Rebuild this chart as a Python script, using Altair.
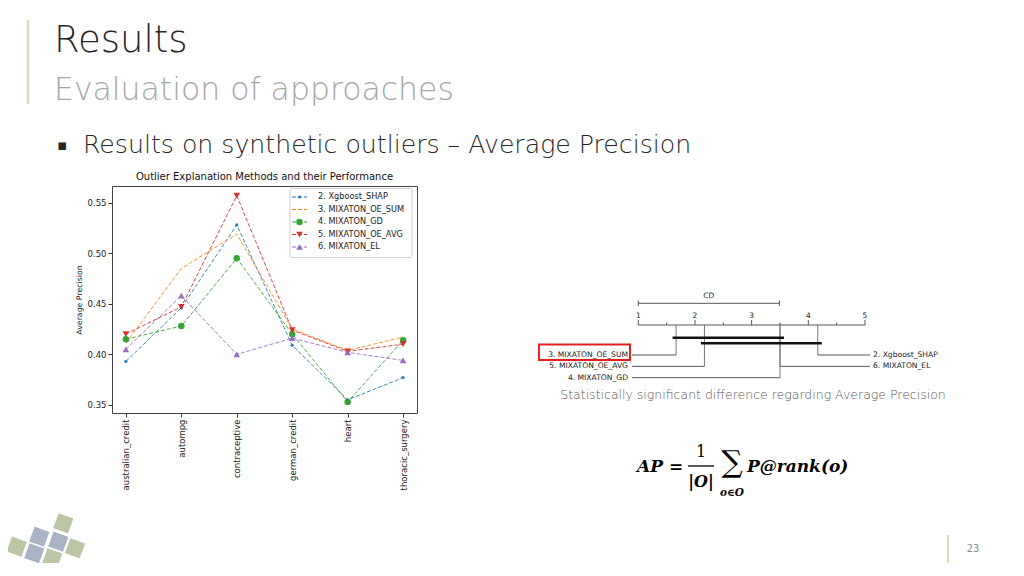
import altair as alt
import pandas as pd

# ---------------- data ----------------
datasets = ["australian_credit", "autompg", "contraceptive", "german_credit", "heart", "thoracic_surgery"]
methods = ["2. Xgboost_SHAP", "3. MIXATON_OE_SUM", "4. MIXATON_GD", "5. MIXATON_OE_AVG", "6. MIXATON_EL"]
shap_vals = [0.393, 0.446, 0.528, 0.409, 0.355, 0.377]
oe_sum_vals = [0.411, 0.485, 0.519, 0.425, 0.404, 0.417]
gd_vals = [0.415, 0.428, 0.495, 0.420, 0.353, 0.414]
oe_avg_vals = [0.420, 0.447, 0.557, 0.424, 0.403, 0.410]
el_vals = [0.405, 0.458, 0.400, 0.416, 0.402, 0.394]
series_values = [shap_vals, oe_sum_vals, gd_vals, oe_avg_vals, el_vals]
y_ticks = [0.35, 0.40, 0.45, 0.50, 0.55]

cd_methods = ["3. MIXATON_OE_SUM", "5. MIXATON_OE_AVG", "4. MIXATON_GD", "6. MIXATON_EL", "2. Xgboost_SHAP"]
cd_ranks = [1.667, 2.167, 3.5, 3.5, 4.167]
cd_value = 2.49
cd_ticks = [1, 2, 3, 4, 5]
cd_minor = [1.5, 2.5, 3.5, 4.5]
cliques = [
    ["3. MIXATON_OE_SUM", "5. MIXATON_OE_AVG", "4. MIXATON_GD", "6. MIXATON_EL"],
    ["5. MIXATON_OE_AVG", "4. MIXATON_GD", "6. MIXATON_EL", "2. Xgboost_SHAP"],
]

chart_title = "Outlier Explanation Methods and their Performance"
slide_title = "Results"
slide_subtitle = "Evaluation of approaches"
bullet_text = "Results on synthetic outliers \u2013 Average Precision"
caption = "Statistically significant difference regarding Average Precision"
page_no = "23"

# ---------------- styles ----------------
colors = ["#1f77b4", "#ff7f0e", "#2ca02c", "#d62728", "#9467bd"]
marker_shapes = ["circle", None, "circle", "triangle-down", "triangle-up"]
marker_sizes = [10, 0, 42, 44, 44]
FONT = "DejaVu Sans"
SLIDE_FONT = "DejaVu Sans"

W, H = 305, 227

rows = [
    {"dataset": d, "method": m, "value": v}
    for m, vals in zip(methods, series_values)
    for d, v in zip(datasets, vals)
]
df = pd.DataFrame(rows)

color = alt.Color("method:N", scale=alt.Scale(domain=methods, range=colors), legend=None)

x_enc = alt.X(
    "dataset:N", sort=datasets,
    scale=alt.Scale(type="point", padding=0.25),
    axis=alt.Axis(title=None, labelAngle=270, labelPadding=2),
)
y_enc = alt.Y(
    "value:Q",
    scale=alt.Scale(domain=[0.342, 0.5665], nice=False, zero=False),
    axis=alt.Axis(values=y_ticks, format=".2f", title="Average Precision", titlePadding=4, labelPadding=2),
)

base = alt.Chart(df)
main_layers = []
for m, shp, sz in zip(methods, marker_shapes, marker_sizes):
    sub = base.transform_filter(alt.datum.method == m)
    main_layers.append(
        sub.mark_line(strokeWidth=1, strokeDash=[4, 2], opacity=0.85).encode(x=x_enc, y=y_enc, color=color)
    )
    if shp is not None:
        main_layers.append(
            sub.mark_point(filled=True, opacity=0.95, shape=shp, size=sz).encode(x=x_enc, y=y_enc, color=color)
        )
main = alt.layer(*main_layers)


def txt(text, x, y, fs, col="#222", font=FONT, align="left", baseline="middle", weight="normal", style="normal"):
    return alt.Chart(pd.DataFrame({"t": [text]})).mark_text(
        align=align, baseline=baseline, fontSize=fs, font=font, color=col,
        fontWeight=weight, fontStyle=style,
    ).encode(text="t:N", x=alt.value(x), y=alt.value(y))


def rule(x, x2, y, y2, col, sw=1):
    return alt.Chart(pd.DataFrame({"a": [0]})).mark_rule(color=col, strokeWidth=sw).encode(
        x=alt.value(x), x2=alt.value(x2), y=alt.value(y), y2=alt.value(y2)
    )


# ---------- manual legend ----------
leg_df = pd.DataFrame({"method": methods})
leg_y = alt.Y("method:N", scale=alt.Scale(type="point", domain=methods, range=[11, 61], padding=0), axis=None)
leg_box = alt.Chart(pd.DataFrame({"a": [0]})).mark_rect(
    fill="white", stroke="#cccccc", strokeWidth=1, cornerRadius=2, opacity=0.9
).encode(x=alt.value(178), x2=alt.value(300), y=alt.value(2.5), y2=alt.value(71.5))
leg_lines = alt.Chart(leg_df).mark_rule(strokeWidth=1, strokeDash=[4, 2]).encode(
    x=alt.value(180), x2=alt.value(195), y=leg_y, color=color)
leg_pts = []
for m, shp, sz in zip(methods, marker_shapes, marker_sizes):
    if shp is not None:
        leg_pts.append(
            alt.Chart(leg_df).transform_filter(alt.datum.method == m).mark_point(
                filled=True, opacity=0.95, shape=shp, size=sz
            ).encode(x=alt.value(187.5), y=leg_y, color=color)
        )
leg_txt = alt.Chart(leg_df).mark_text(align="left", baseline="middle", fontSize=8.2, font=FONT, color="#222").encode(
    x=alt.value(206), y=leg_y, text="method:N")
legend = alt.layer(leg_box, leg_lines, *leg_pts, leg_txt)

# ---------- critical difference diagram ----------
AX_Y = 139
cd_x = lambda f: alt.X(f, scale=alt.Scale(domain=[1, 5], range=[526.3, 753], zero=False, nice=False), axis=None)

left_n = (len(cd_methods) + 1) // 2
cd_df = pd.DataFrame({"method": cd_methods, "rank": cd_ranks})
cd_df = cd_df.sort_values("rank", kind="stable").reset_index(drop=True)
cd_df["side"] = ["left" if i < left_n else "right" for i in range(len(cd_df))]
cd_df["row"] = 0
lidx = cd_df.index[cd_df["side"] == "left"]
ridx = cd_df.index[cd_df["side"] == "right"]
cd_df.loc[lidx, "row"] = range(len(lidx))
cd_df.loc[ridx[::-1], "row"] = range(len(ridx))
row_y = alt.Y("row:Q", scale=alt.Scale(domain=[0, 2], range=[169, 191.7], zero=False, nice=False), axis=None)

LINE_C = "#555555"
axis_df = pd.DataFrame({"lo": [min(cd_ticks)], "hi": [max(cd_ticks)]})
cd_axis = alt.Chart(axis_df).mark_rule(color=LINE_C, strokeWidth=1).encode(
    x=cd_x("lo:Q"), x2="hi:Q", y=alt.value(AX_Y))
major = alt.Chart(pd.DataFrame({"r": cd_ticks})).mark_rule(color=LINE_C, strokeWidth=1).encode(
    x=cd_x("r:Q"), y=alt.value(AX_Y - 5), y2=alt.value(AX_Y))
minor = alt.Chart(pd.DataFrame({"r": cd_minor})).mark_rule(color=LINE_C, strokeWidth=1).encode(
    x=cd_x("r:Q"), y=alt.value(AX_Y - 2.5), y2=alt.value(AX_Y))
tick_lbl = alt.Chart(pd.DataFrame({"r": cd_ticks})).mark_text(
    fontSize=7.5, font=FONT, color="#222", baseline="middle").encode(
    x=cd_x("r:Q"), y=alt.value(AX_Y - 9.5), text=alt.Text("r:Q", format="d"))

cdbar_df = pd.DataFrame({"a": [1.0], "b": [1.0 + cd_value], "m": [1.0 + cd_value / 2]})
cd_bar = alt.Chart(cdbar_df).mark_rule(color=LINE_C, strokeWidth=1).encode(
    x=cd_x("a:Q"), x2="b:Q", y=alt.value(117.3))
cd_end1 = alt.Chart(cdbar_df).mark_rule(color=LINE_C, strokeWidth=1).encode(
    x=cd_x("a:Q"), y=alt.value(114.5), y2=alt.value(120))
cd_end2 = alt.Chart(cdbar_df).mark_rule(color=LINE_C, strokeWidth=1).encode(
    x=cd_x("b:Q"), y=alt.value(114.5), y2=alt.value(120))
cd_lbl = alt.Chart(cdbar_df.assign(t="CD")).mark_text(fontSize=7.5, font=FONT, color="#222").encode(
    x=cd_x("m:Q"), y=alt.value(110), text="t:N")

rank_of = dict(zip(cd_methods, cd_ranks))
clq_df = pd.DataFrame({
    "lo": [min(rank_of[m] for m in c) for c in cliques],
    "hi": [max(rank_of[m] for m in c) for c in cliques],
    "crow": list(range(len(cliques))),
})
clq = alt.Chart(clq_df).mark_rule(color="#111", strokeWidth=2.6, xOffset=-3.5, x2Offset=4).encode(
    x=cd_x("lo:Q"), x2="hi:Q",
    y=alt.Y("crow:Q", scale=alt.Scale(domain=[0, 1], range=[151.7, 157.2], zero=False, nice=False), axis=None))

cd_base = alt.Chart(cd_df)
vlines = cd_base.mark_rule(color="#777", strokeWidth=1).encode(
    x=cd_x("rank:Q"), y=row_y, y2=alt.value(AX_Y))
hl_left = cd_base.transform_filter(alt.datum.side == "left").mark_rule(color=LINE_C, strokeWidth=1).encode(
    x=cd_x("rank:Q"), x2=alt.value(520), y=row_y)
hl_right = cd_base.transform_filter(alt.datum.side == "right").mark_rule(color=LINE_C, strokeWidth=1).encode(
    x=cd_x("rank:Q"), x2=alt.value(758), y=row_y)
lab_left = cd_base.transform_filter(alt.datum.side == "left").mark_text(
    align="right", baseline="middle", fontSize=7.6, font=FONT, color="#222").encode(
    x=alt.value(516), y=row_y, text="method:N")
lab_right = cd_base.transform_filter(alt.datum.side == "right").mark_text(
    align="left", baseline="middle", fontSize=7.6, font=FONT, color="#222").encode(
    x=alt.value(761), y=row_y, text="method:N")

cd_group = alt.layer(
    cd_axis, major, minor, tick_lbl, cd_bar, cd_end1, cd_end2, cd_lbl,
    vlines, hl_left, hl_right, lab_left, lab_right, clq,
).resolve_scale(y="independent")

red_box = alt.Chart(pd.DataFrame({"a": [0]})).mark_rect(
    fillOpacity=0, stroke="#e3201b", strokeWidth=2).encode(
    x=alt.value(427), x2=alt.value(518), y=alt.value(158.5), y2=alt.value(174))

# ---------- slide decorations ----------
deco = [
    rule(-84, -84, -166, -82, "#cfe3b4", 2.5),
    txt(slide_title, -58, -145, 37, "#262626", SLIDE_FONT, weight=200),
    txt(slide_subtitle, -58, -95, 31.5, "#a6a6a6", SLIDE_FONT, weight=200),
    txt("\u25aa", -55, -41, 15, "#262626", SLIDE_FONT),
    txt(bullet_text, -29, -41, 25.2, "#262626", SLIDE_FONT, weight=200),
    txt(chart_title, W / 2, -9, 10, "#111", FONT, align="center"),
    txt(caption, 641, 209, 12.5, "#595959", SLIDE_FONT, align="center", weight=200),
    rule(836, 836, 349, 377, "#cfe3b4", 2),
    txt(page_no, 861, 363, 10, "#8c8c8c", SLIDE_FONT, align="center"),
    # formula
    txt("AP =", 525, 281, 17, "#000", "DejaVu Serif", weight="bold", style="italic"),
    txt("1", 589, 266, 16, "#000", "DejaVu Serif", align="center"),
    rule(576, 602, 280, 280, "#000", 1.3),
    txt("|O|", 589, 296, 16, "#000", "DejaVu Serif", align="center", weight="bold", style="italic"),
    txt("\u2211", 620, 277, 30, "#000", "DejaVu Serif", align="center"),
    txt("o\u2208O", 620, 307, 10.5, "#000", "DejaVu Serif", align="center", weight="bold", style="italic"),
    txt("P@rank(o)", 635, 281, 17, "#000", "DejaVu Serif", weight="bold", style="italic"),
]

tiles = [
    (-48.7, 337.3, "#bcc5a6"), (-72.7, 350.7, "#aab3c6"), (-53.7, 355.7, "#aab3c6"),
    (-37.0, 362.3, "#bcc5a6"), (-95.3, 360.7, "#bcc5a6"), (-77.7, 367.3, "#aab3c6"),
    (-59.7, 372.3, "#bcc5a6"),
]
tile_layers = [
    alt.Chart(pd.DataFrame({"a": [0]})).mark_point(
        shape="square", filled=True, size=280, angle=20, color=c, opacity=1, stroke="white", strokeWidth=1
    ).encode(x=alt.value(tx), y=alt.value(ty))
    for tx, ty, c in tiles
]

chart = alt.layer(
    *tile_layers, *deco, main, legend, cd_group, red_box,
).resolve_scale(x="independent", y="independent").properties(
    width=W, height=H,
    autosize=alt.AutoSizeParams(type="none"),
    padding={"left": 104, "top": 178, "right": 591, "bottom": 150},
).configure_view(
    stroke="#444", strokeWidth=1
).configure_axis(
    labelFont=FONT, titleFont=FONT, labelFontSize=8.5, titleFontSize=7.8,
    titleFontWeight="normal", labelColor="#222", titleColor="#222",
    tickColor="#333", tickSize=4, domain=False, grid=False,
)

chart.save("out.html", embed_options={"renderer": "svg", "actions": False})
